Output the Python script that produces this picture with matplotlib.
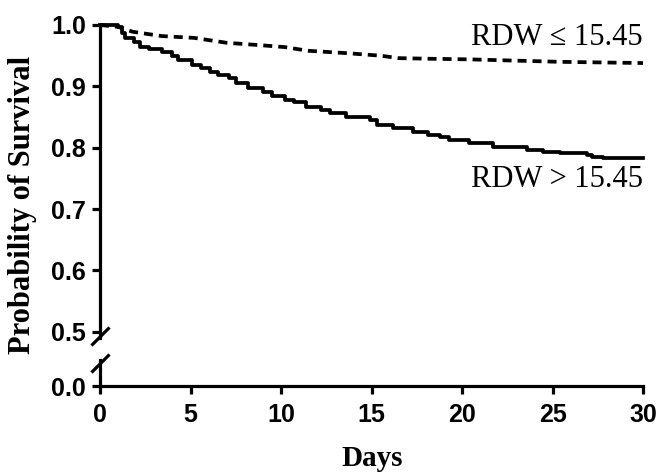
import matplotlib
matplotlib.use("Agg")
import matplotlib.pyplot as plt

# Kaplan-Meier estimates
days_high = [0, 1.0, 1.2, 1.4, 1.9, 2.2, 2.7, 3.4, 4.0, 4.3, 5.1, 5.6, 6.1, 6.5, 7.1,
             7.5, 8.2, 9.0, 9.5, 10.2, 10.7, 11.4, 12.2, 12.7, 13.6, 14.9, 15.3, 16.2,
             17.3, 18.1, 18.8, 19.3, 20.4, 21.7, 23.6, 24.5, 25.4, 26.9, 27.2, 27.8, 30]
surv_high = [1.0, 0.997, 0.987, 0.979, 0.972, 0.964, 0.961, 0.956, 0.950, 0.943, 0.935,
             0.930, 0.923, 0.919, 0.914, 0.906, 0.897, 0.891, 0.884, 0.878, 0.875, 0.867,
             0.862, 0.857, 0.850, 0.845, 0.837, 0.832, 0.826, 0.821, 0.818, 0.813, 0.808,
             0.801, 0.796, 0.793, 0.792, 0.788, 0.785, 0.783, 0.783]

days_low = [0, 1.0, 1.8, 3.4, 5.2, 7.0, 8.9, 10.2, 11.5, 13.7, 15.5, 16.5, 18.2, 20.4,
            25.4, 30]
surv_low = [1.0, 0.997, 0.989, 0.982, 0.979, 0.971, 0.967, 0.964, 0.958, 0.954, 0.950,
            0.946, 0.945, 0.944, 0.940, 0.938]

label_low = "RDW ≤ 15.45"
label_high = "RDW > 15.45"

tick_font = {"family": "Liberation Sans", "weight": "bold", "size": 18}
lw = 2.7

fig = plt.figure(figsize=(6.6, 4.73), dpi=100)
W, H = 660, 473
x0, x1 = 100, 643
ax_top = fig.add_axes([x0 / W, 1 - 338 / H, (x1 - x0) / W, (338 - 25) / H])
ax_bot = fig.add_axes([x0 / W, 1 - 386 / H, (x1 - x0) / W, (386 - 360) / H])

ax_top.plot(days_high, surv_high, color="black", lw=lw, drawstyle="steps-post", clip_on=False)
ax_top.plot(days_low, surv_low, color="black", lw=lw,
            linestyle=(0, (2.4, 1.6)), clip_on=False)

ax_top.set_xlim(0, 30)
ax_top.set_ylim(0.49, 1.0)
ax_top.set_yticks([0.5, 0.6, 0.7, 0.8, 0.9, 1.0])
ax_top.set_yticklabels(["0.5", "0.6", "0.7", "0.8", "0.9", "1.0"], fontdict=tick_font)
ax_top.set_xticks([])

ax_bot.set_xlim(0, 30)
ax_bot.set_ylim(0, 1)
ax_bot.set_yticks([0])
ax_bot.set_yticklabels(["0.0"], fontdict=tick_font)
ax_bot.set_xticks([0, 5, 10, 15, 20, 25, 30])
ax_bot.set_xticklabels(["0", "5", "10", "15", "20", "25", "30"], fontdict=tick_font)

for ax in (ax_top, ax_bot):
    ax.patch.set_visible(False)
    for s in ("top", "right"):
        ax.spines[s].set_visible(False)
    for s in ("left", "bottom"):
        ax.spines[s].set_linewidth(2.3)
    ax.tick_params(direction="out", length=6, width=2.3, pad=4)
ax_top.spines["bottom"].set_visible(False)
ax_bot.tick_params(axis="x", pad=6)

# break marks
brk = dict(marker=[(-1, -1), (1, 1)], markersize=13, linestyle="none",
           color="black", mec="black", mew=2.3, clip_on=False)
ax_top.plot([0], [0.005], transform=ax_top.transAxes, **brk)
ax_bot.plot([0], [0.9], transform=ax_bot.transAxes, **brk)

ax_top.text(30, 0.979, label_low, ha="right", va="center",
            family="Liberation Serif", fontsize=22)
ax_top.text(30, 0.748, label_high, ha="right", va="center",
            family="Liberation Serif", fontsize=22)

fig.text(23 / W, 1 - 205 / H, "Probability of Survival", rotation=90, ha="center", va="center",
         family="Liberation Serif", weight="bold", fontsize=22)
fig.text(372 / W, 1 - 458 / H, "Days", ha="center", va="center",
         family="Liberation Serif", weight="bold", fontsize=21)

fig.savefig("out.png", dpi=100)
